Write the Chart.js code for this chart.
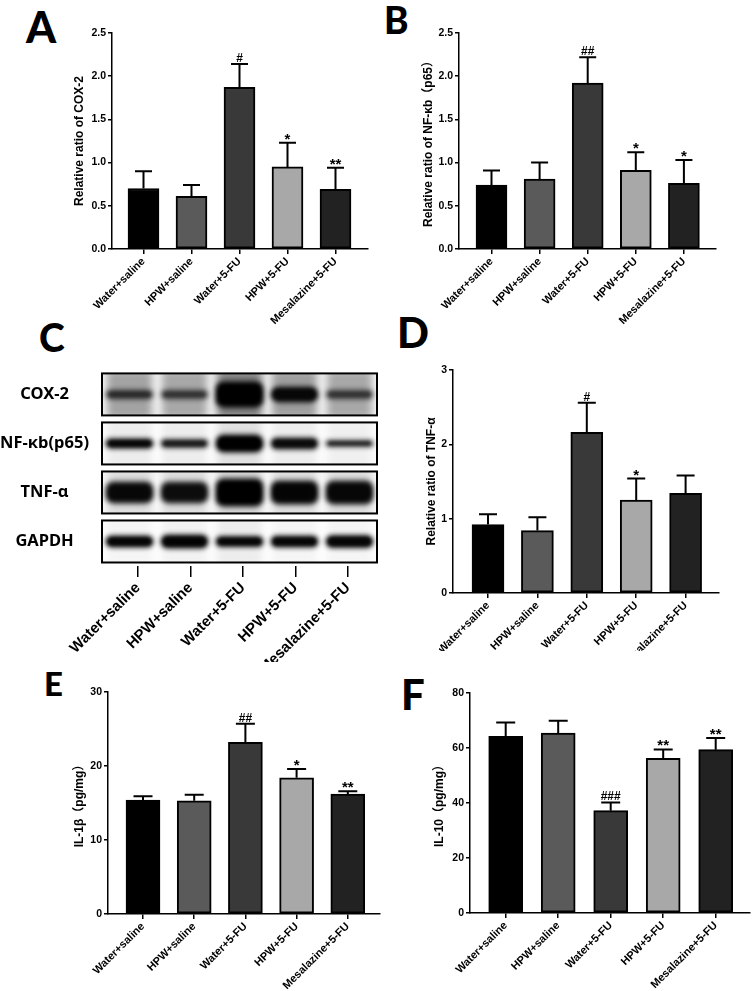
<!DOCTYPE html>
<html>
<head>
<meta charset="utf-8">
<script src="https://cdn.jsdelivr.net/npm/chart.js@4.4.1/dist/chart.umd.min.js"></script>
<style>
html, body { margin: 0; padding: 0; background: #fff; }
body { width: 752px; height: 991px; position: relative; overflow: hidden; }
canvas { position: absolute; }
.letter { position: absolute; font-family: Lato, "Open Sans", sans-serif; font-weight: 900; line-height: 1; color: #000; }
</style>
</head>
<body>
<div class="letter" style="left:26px;top:5px;font-size:43px">A</div>
<div class="letter" style="left:384px;top:1px;font-size:37px">B</div>
<div class="letter" style="left:39px;top:318px;font-size:39px">C</div>
<div class="letter" style="left:397px;top:311px;font-size:42px">D</div>
<div class="letter" style="left:44px;top:667px;font-size:33px">E</div>
<div class="letter" style="left:401px;top:673px;font-size:42px">F</div>

<canvas id="cA"></canvas>
<canvas id="cB"></canvas>
<canvas id="cC"></canvas>
<canvas id="cD"></canvas>
<canvas id="cE"></canvas>
<canvas id="cF"></canvas>

<script>
// groups (x categories)
const groups = ['Water+saline', 'HPW+saline', 'Water+5-FU', 'HPW+5-FU', 'Mesalazine+5-FU'];
const barColors = ['#000000', '#5a5a5a', '#393939', '#a8a8a8', '#222222'];

// A - COX-2
const cox2Mean  = [0.70, 0.61, 1.87, 0.95, 0.69];
const cox2Upper = [0.90, 0.74, 2.14, 1.23, 0.94];
const cox2Marks = ['', '', '#', '*', '**'];

// B - NF-kb(p65)
const nfkbMean  = [0.74, 0.81, 1.92, 0.91, 0.76];
const nfkbUpper = [0.91, 1.00, 2.22, 1.12, 1.03];
const nfkbMarks = ['', '', '##', '*', '*'];

// D - TNF-a
const tnfMean  = [0.92, 0.84, 2.16, 1.25, 1.34];
const tnfUpper = [1.06, 1.02, 2.56, 1.54, 1.58];
const tnfMarks = ['', '', '#', '*', ''];

// E - IL-1b
const il1bMean  = [15.4, 15.3, 23.2, 18.4, 16.2];
const il1bUpper = [15.9, 16.1, 25.7, 19.6, 16.6];
const il1bMarks = ['', '', '##', '*', '**'];

// F - IL-10
const il10Mean  = [64.2, 65.4, 37.2, 56.2, 59.4];
const il10Upper = [69.3, 69.9, 40.2, 59.5, 63.6];
const il10Marks = ['', '', '###', '**', '**'];

// C - western blot (band darkness 0..1, band thickness, background haze per lane)
const blotRows = ['COX-2', 'NF-κb(p65)', 'TNF-α', 'GAPDH'];
const blotDark = [
  [0.6, 0.55, 1.0, 0.9, 0.55],
  [0.95, 0.8, 1.0, 0.9, 0.75],
  [0.92, 0.88, 1.0, 0.95, 0.93],
  [0.97, 0.97, 0.95, 0.95, 0.95]
];
const blotThick = [
  [10, 10, 26, 16, 10],
  [10, 9, 18, 12, 7],
  [22, 22, 28, 24, 24],
  [12, 14, 11, 12, 13]
];
const blotHaze = [
  [0.36, 0.34, 0.5, 0.38, 0.34],
  [0.07, 0.07, 0.12, 0.07, 0.06],
  [0.14, 0.14, 0.18, 0.14, 0.14],
  [0.04, 0.05, 0.07, 0.04, 0.04]
];

const ARIAL = '"Liberation Sans", Arial, "Noto Sans CJK SC", sans-serif';
Chart.defaults.font.family = ARIAL;
Chart.defaults.color = '#000';

function place(id, left, top, w, h) {
  const c = document.getElementById(id);
  c.width = w; c.height = h;
  c.style.left = left + 'px'; c.style.top = top + 'px';
  return c;
}

function errPlugin(mean, upper, marks, cap) {
  return {
    id: 'errbars',
    afterDatasetsDraw(chart) {
      const { ctx, scales: { x, y } } = chart;
      ctx.save();
      ctx.strokeStyle = '#000';
      ctx.lineWidth = 2;
      upper.forEach((u, i) => {
        const px = x.getPixelForValue(i);
        const top = y.getPixelForValue(u);
        const base = y.getPixelForValue(mean[i]);
        ctx.beginPath();
        ctx.moveTo(px, base);
        ctx.lineTo(px, top);
        ctx.moveTo(px - cap / 2, top);
        ctx.lineTo(px + cap / 2, top);
        ctx.stroke();
        if (marks[i]) {
          const star = marks[i][0] === '*';
          ctx.fillStyle = '#000';
          ctx.font = 'bold ' + (star ? 15 : 12) + 'px ' + ARIAL;
          ctx.textAlign = 'center';
          ctx.textBaseline = 'alphabetic';
          ctx.fillText(marks[i], px, top + (star ? 1 : -2));
        }
      });
      ctx.restore();
    }
  };
}

// L: pixel layout of a panel
function barChart(id, L, mean, upper, marks, yMax, yStep, dec, title) {
  const left = Math.round(L.titleX - 7.2);
  const W = L.axisX - left;
  const T = L.yTop - L.top;
  const H = L.bottom - L.yBot;
  const width = L.xEnd + 2 - left;
  const c = place(id, left, L.top, width, L.bottom - L.top);
  if (L.clip) c.style.clipPath = L.clip(left, L.top, width, L.bottom - L.top);
  const xmin = (L.axisX - L.c0) / L.step;
  const xmax = (L.xEnd - L.c0) / L.step;
  new Chart(c, {
    type: 'bar',
    data: {
      datasets: [{
        data: mean.map((v, i) => ({ x: i, y: v })),
        backgroundColor: barColors,
        borderColor: '#000',
        borderWidth: 2,
        borderSkipped: false,
        barThickness: L.barW
      }]
    },
    options: {
      responsive: false,
      animation: false,
      layout: { padding: { left: 0, top: T, right: 2, bottom: 0 } },
      plugins: { legend: { display: false }, tooltip: { enabled: false } },
      scales: {
        x: {
          type: 'linear', min: xmin, max: xmax, offset: false,
          afterBuildTicks: s => { s.ticks = groups.map((g, i) => ({ value: i })); },
          afterFit: s => { s.height = H; },
          ticks: {
            callback: v => groups[v],
            autoSkip: false, maxRotation: 45, minRotation: 45,
            padding: 1,
            font: { size: 11, weight: 'bold' }
          },
          grid: { offset: false, drawOnChartArea: false, color: '#000', lineWidth: 1.5, tickLength: 5 },
          border: { color: '#000', width: 1.5 }
        },
        y: {
          min: 0, max: yMax,
          afterFit: s => { s.width = W; },
          ticks: {
            stepSize: yStep, padding: 2,
            callback: v => v.toFixed(dec),
            font: { size: 10.5, weight: 'bold' }
          },
          grid: { drawOnChartArea: false, color: '#000', lineWidth: 1.5, tickLength: 4 },
          border: { color: '#000', width: 1.5 },
          title: { display: true, text: title, padding: 0, font: { size: 12, weight: 'bold' } }
        }
      }
    },
    plugins: [errPlugin(mean, upper, marks, Math.round(L.barW * 0.56))]
  });
}

barChart('cA', { titleX: 79, axisX: 112, top: 20, yTop: 33, yBot: 249, bottom: 330, xEnd: 368, c0: 143.5, step: 48, barW: 31 },
  cox2Mean, cox2Upper, cox2Marks, 2.5, 0.5, 1, 'Relative ratio of COX-2');

barChart('cB', { titleX: 428, axisX: 459, top: 20, yTop: 33, yBot: 249, bottom: 330, xEnd: 716, c0: 491.5, step: 48.1, barW: 31 },
  nfkbMean, nfkbUpper, nfkbMarks, 2.5, 0.5, 1, 'Relative ratio of NF-κb（p65）');

barChart('cD', {
    titleX: 431, axisX: 453, top: 355, yTop: 370, yBot: 593, bottom: 651, xEnd: 719, c0: 488, step: 49.4, barW: 32,
    clip: (l, t, w, h) => {
      const cx = 439 - l, cy = 598 - t;
      return `polygon(0 0, ${w}px 0, ${w}px ${h}px, ${cx}px ${h}px, ${cx}px ${cy}px, 0 ${cy}px)`;
    }
  },
  tnfMean, tnfUpper, tnfMarks, 3, 1, 0, 'Relative ratio of TNF-α');

barChart('cE', { titleX: 79, axisX: 108, top: 680, yTop: 692, yBot: 914, bottom: 991, xEnd: 380, c0: 143, step: 51.2, barW: 34 },
  il1bMean, il1bUpper, il1bMarks, 30, 10, 0, 'IL-1β（pg/mg）');

barChart('cF', { titleX: 439, axisX: 470, top: 680, yTop: 693, yBot: 913, bottom: 991, xEnd: 750, c0: 505.7, step: 52.5, barW: 34 },
  il10Mean, il10Upper, il10Marks, 80, 20, 0, 'IL-10（pg/mg）');

// C - blot panel
function bandPath(ctx, xc, yc, w, h) {
  const r = Math.min(h / 2, 8);
  ctx.beginPath();
  ctx.roundRect(xc - w / 2, yc - h / 2, w, h, r);
}

const blotPlugin = {
  id: 'blot',
  beforeDatasetsDraw(chart) {
    const { ctx, chartArea: a, scales: { y } } = chart;
    const laneW = (a.right - a.left) / groups.length;
    blotRows.forEach((r, ri) => {
      const yc = y.getPixelForValue(ri);
      const bx = a.left, by = yc - 21, bw = a.right - a.left, bh = 42;
      ctx.save();
      ctx.beginPath();
      ctx.rect(bx, by, bw, bh);
      ctx.clip();
      ctx.fillStyle = '#fff';
      ctx.fillRect(bx, by, bw, bh);
      groups.forEach((g, i) => {
        const xc = a.left + (i + 0.5) * laneW;
        ctx.filter = 'blur(4px)';
        ctx.fillStyle = `rgba(0,0,0,${blotHaze[ri][i]})`;
        ctx.fillRect(xc - 23, by - 4, 46, bh + 8);
        ctx.filter = 'blur(2.5px)';
        ctx.fillStyle = `rgba(0,0,0,${blotDark[ri][i]})`;
        bandPath(ctx, xc, yc, 48, blotThick[ri][i]);
        ctx.fill();
        ctx.filter = 'blur(1.5px)';
        ctx.fillStyle = `rgba(0,0,0,${blotDark[ri][i] * 0.6})`;
        bandPath(ctx, xc, yc, 42, blotThick[ri][i] * 0.6);
        ctx.fill();
      });
      ctx.restore();
      ctx.save();
      ctx.strokeStyle = '#000';
      ctx.lineWidth = 2;
      ctx.strokeRect(bx, by, bw, bh);
      ctx.restore();
    });
  }
};

(function () {
  const left = 0, top = 355, width = 378, height = 307;
  const c = place('cC', left, top, width, height);
  const axisL = 102, areaTop = 361, areaBot = 566, c0 = 138, step = 52.5;
  new Chart(c, {
    type: 'scatter',
    data: { datasets: [] },
    options: {
      responsive: false,
      animation: false,
      layout: { padding: { left: 0, top: areaTop - top, right: 1, bottom: 0 } },
      plugins: { legend: { display: false }, tooltip: { enabled: false } },
      scales: {
        x: {
          type: 'linear', min: (axisL - c0) / step, max: (377 - c0) / step, offset: false,
          afterBuildTicks: s => { s.ticks = groups.map((g, i) => ({ value: i })); },
          afterFit: s => { s.height = top + height - areaBot; },
          ticks: {
            callback: v => groups[v],
            autoSkip: false, maxRotation: 45, minRotation: 45, padding: 2,
            font: { size: 15, weight: 'bold' }
          },
          grid: { offset: false, drawOnChartArea: false, color: '#000', lineWidth: 1.5, tickLength: 11 },
          border: { display: false }
        },
        y: {
          type: 'category', labels: blotRows, offset: true,
          afterFit: s => { s.width = axisL - left; },
          ticks: {
            crossAlign: 'center', padding: 5,
            font: { family: '"Noto Sans", "DejaVu Sans", sans-serif', size: 16.5, weight: 'bold' }
          },
          grid: { display: false },
          border: { display: false }
        }
      }
    },
    plugins: [blotPlugin]
  });
})();
</script>
</body>
</html>
